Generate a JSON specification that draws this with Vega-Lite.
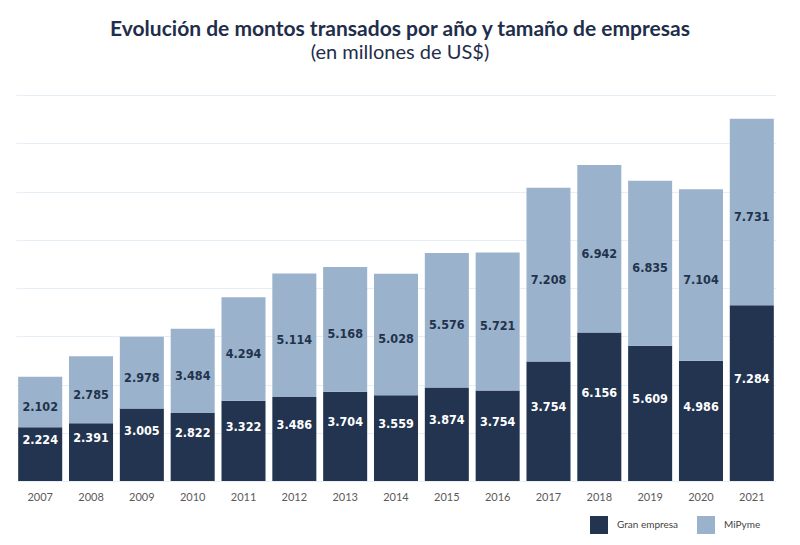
{
  "$schema": "https://vega.github.io/schema/vega-lite/v6.json",
  "width": 760,
  "height": 386,
  "autosize": {"type": "none"},
  "padding": {"left": 16, "top": 95, "right": 24, "bottom": 64},
  "background": "#ffffff",
  "config": {
    "font": "Lato",
    "view": {"stroke": null}
  },
  "title": {
    "text": "Evolución de montos transados por año y tamaño de empresas",
    "subtitle": "(en millones de US$)",
    "anchor": "middle",
    "dx": 4,
    "offset": 32,
    "font": "Lato",
    "fontSize": 21,
    "fontWeight": "bold",
    "color": "#1f2e4a",
    "subtitleFont": "Lato",
    "subtitleFontSize": 20,
    "subtitleColor": "#1f2e4a",
    "subtitlePadding": 3
  },
  "data": {
    "values": [
      {"anio": "2007", "tipo": "Gran empresa", "monto": 2224, "etiqueta": "2.224"},
      {"anio": "2007", "tipo": "MiPyme", "monto": 2102, "etiqueta": "2.102"},
      {"anio": "2008", "tipo": "Gran empresa", "monto": 2391, "etiqueta": "2.391"},
      {"anio": "2008", "tipo": "MiPyme", "monto": 2785, "etiqueta": "2.785"},
      {"anio": "2009", "tipo": "Gran empresa", "monto": 3005, "etiqueta": "3.005"},
      {"anio": "2009", "tipo": "MiPyme", "monto": 2978, "etiqueta": "2.978"},
      {"anio": "2010", "tipo": "Gran empresa", "monto": 2822, "etiqueta": "2.822"},
      {"anio": "2010", "tipo": "MiPyme", "monto": 3484, "etiqueta": "3.484"},
      {"anio": "2011", "tipo": "Gran empresa", "monto": 3322, "etiqueta": "3.322"},
      {"anio": "2011", "tipo": "MiPyme", "monto": 4294, "etiqueta": "4.294"},
      {"anio": "2012", "tipo": "Gran empresa", "monto": 3486, "etiqueta": "3.486"},
      {"anio": "2012", "tipo": "MiPyme", "monto": 5114, "etiqueta": "5.114"},
      {"anio": "2013", "tipo": "Gran empresa", "monto": 3704, "etiqueta": "3.704"},
      {"anio": "2013", "tipo": "MiPyme", "monto": 5168, "etiqueta": "5.168"},
      {"anio": "2014", "tipo": "Gran empresa", "monto": 3559, "etiqueta": "3.559"},
      {"anio": "2014", "tipo": "MiPyme", "monto": 5028, "etiqueta": "5.028"},
      {"anio": "2015", "tipo": "Gran empresa", "monto": 3874, "etiqueta": "3.874"},
      {"anio": "2015", "tipo": "MiPyme", "monto": 5576, "etiqueta": "5.576"},
      {"anio": "2016", "tipo": "Gran empresa", "monto": 3754, "etiqueta": "3.754"},
      {"anio": "2016", "tipo": "MiPyme", "monto": 5721, "etiqueta": "5.721"},
      {"anio": "2017", "tipo": "Gran empresa", "monto": 4950, "etiqueta": "3.754"},
      {"anio": "2017", "tipo": "MiPyme", "monto": 7208, "etiqueta": "7.208"},
      {"anio": "2018", "tipo": "Gran empresa", "monto": 6156, "etiqueta": "6.156"},
      {"anio": "2018", "tipo": "MiPyme", "monto": 6942, "etiqueta": "6.942"},
      {"anio": "2019", "tipo": "Gran empresa", "monto": 5609, "etiqueta": "5.609"},
      {"anio": "2019", "tipo": "MiPyme", "monto": 6835, "etiqueta": "6.835"},
      {"anio": "2020", "tipo": "Gran empresa", "monto": 4986, "etiqueta": "4.986"},
      {"anio": "2020", "tipo": "MiPyme", "monto": 7104, "etiqueta": "7.104"},
      {"anio": "2021", "tipo": "Gran empresa", "monto": 7284, "etiqueta": "7.284"},
      {"anio": "2021", "tipo": "MiPyme", "monto": 7731, "etiqueta": "7.731"}
    ]
  },
  "layer": [
    {
      "mark": {"type": "bar"},
      "encoding": {
        "x": {
          "field": "anio",
          "type": "ordinal",
          "scale": {"paddingInner": 0.134, "paddingOuter": 0.043},
          "axis": {
            "title": null,
            "labelAngle": 0,
            "labelFont": "Lato",
            "labelFontSize": 11,
            "labelColor": "#5a5a5a",
            "labelPadding": 10,
            "ticks": false,
            "domain": false
          }
        },
        "y": {
          "field": "monto",
          "type": "quantitative",
          "aggregate": "sum",
          "scale": {"domain": [0, 16000], "nice": false},
          "axis": {
            "title": null,
            "values": [0, 2000, 4000, 6000, 8000, 10000, 12000, 14000, 16000],
            "labels": false,
            "ticks": false,
            "domain": false,
            "grid": true,
            "gridColor": "#e6eef6",
            "gridWidth": 1
          }
        },
        "color": {
          "field": "tipo",
          "type": "nominal",
          "scale": {"domain": ["Gran empresa", "MiPyme"], "range": ["#223450", "#9ab2cb"]},
          "legend": {
            "title": null,
            "orient": "none",
            "legendX": 574,
            "legendY": 421,
            "direction": "horizontal",
            "symbolType": "square",
            "symbolSize": 324,
            "symbolStrokeWidth": 0,
            "labelFont": "Lato",
            "labelFontSize": 10,
            "labelColor": "#444444",
            "labelOffset": 9,
            "columnPadding": 18
          }
        },
        "order": {"field": "tipo", "type": "nominal", "sort": "ascending"}
      }
    },
    {
      "transform": [
        {"stack": "monto", "groupby": ["anio"], "sort": [{"field": "tipo", "order": "ascending"}], "as": ["y0", "y1"]},
        {"fold": ["y0", "y1"], "as": ["borde", "pos"]},
        {"filter": "datum.tipo == 'Gran empresa'"}
      ],
      "mark": {"type": "text", "font": "DejaVu Sans Condensed", "fontWeight": "bold", "fontSize": 12.5, "color": "#ffffff", "dy": -14},
      "encoding": {
        "x": {"field": "anio", "type": "ordinal"},
        "y": {"field": "pos", "type": "quantitative", "aggregate": "mean"},
        "text": {"field": "etiqueta", "type": "nominal"}
      }
    },
    {
      "transform": [
        {"stack": "monto", "groupby": ["anio"], "sort": [{"field": "tipo", "order": "ascending"}], "as": ["y0", "y1"]},
        {"fold": ["y0", "y1"], "as": ["borde", "pos"]},
        {"filter": "datum.tipo == 'MiPyme'"}
      ],
      "mark": {"type": "text", "font": "DejaVu Sans Condensed", "fontWeight": "bold", "fontSize": 12.5, "color": "#22324c", "dy": 5},
      "encoding": {
        "x": {"field": "anio", "type": "ordinal"},
        "y": {"field": "pos", "type": "quantitative", "aggregate": "mean"},
        "text": {"field": "etiqueta", "type": "nominal"}
      }
    }
  ]
}
